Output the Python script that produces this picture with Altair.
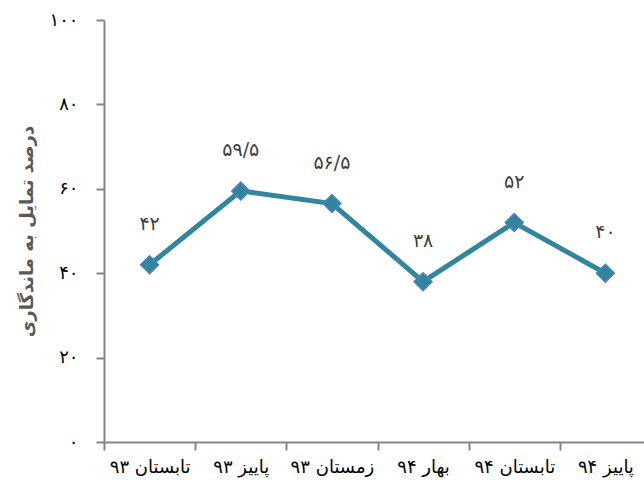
import altair as alt
import pandas as pd

# Seasons (Persian calendar) and share of employees intending to stay (%)
seasons = ["تابستان ۹۳", "پاییز ۹۳", "زمستان ۹۳", "بهار ۹۴", "تابستان ۹۴", "پاییز ۹۴"]
values = [42, 59.5, 56.5, 38, 52, 40]
y_ticks = [0, 20, 40, 60, 80, 100]

FA_DIGITS = str.maketrans("0123456789.", "۰۱۲۳۴۵۶۷۸۹/")


def fa_num(v):
    s = f"{v:g}"
    return s.translate(FA_DIGITS)


df = pd.DataFrame({
    "season": seasons,
    "value": values,
    "label": [fa_num(v) for v in values],
})

# Persian-digit labels for the y axis
y_label_expr = " : ".join(
    f"datum.value == {t} ? '{fa_num(t)}'" for t in y_ticks
) + " : ''"

FONT = "DejaVu Sans"
LINE = "#31859C"

x_enc = alt.X(
    "season:N",
    sort=seasons,
    title=None,
    scale=alt.Scale(range=[0, 547], paddingInner=0, paddingOuter=0),
    axis=alt.Axis(
        tickBand="extent",
        labelAngle=0,
        labelFontSize=18,
        labelFont=FONT,
        labelColor="#000000",
        labelPadding=8,
        tickSize=8,
        tickColor="#868686",
        tickWidth=2,
        domainColor="#868686",
        domainWidth=2,
        grid=False,
    ),
)

y_enc = alt.Y(
    "value:Q",
    title="درصد تمایل به ماندگاری",
    scale=alt.Scale(domain=[0, 100], nice=False),
    axis=alt.Axis(
        values=y_ticks,
        labelExpr=y_label_expr,
        labelFontSize=18,
        labelFont=FONT,
        labelColor="#000000",
        labelPadding=18,
        tickSize=8,
        tickColor="#868686",
        tickWidth=2,
        domainColor="#868686",
        domainWidth=2,
        grid=False,
        titleFont=FONT,
        titleFontSize=18,
        titleFontWeight="bold",
        titleColor="#595959",
        titlePadding=12,
    ),
)

base = alt.Chart(df).encode(x=x_enc, y=y_enc)

line = base.mark_line(color=LINE, strokeWidth=5)
points = base.mark_point(
    shape="diamond", filled=True, size=320, color=LINE,
    stroke="#4F7FC0", strokeWidth=1.5, opacity=1,
)
labels = base.mark_text(
    dy=-41, fontSize=19, font=FONT, color="#404040"
).encode(text="label:N")

chart = (
    alt.layer(line, points, labels)
    .properties(
        width=540,
        height=422,
        autosize=alt.AutoSizeParams(type="none"),
        padding={"left": 104, "top": 20, "right": 0, "bottom": 51},
    )
    .configure_view(stroke=None)
)

chart.save("out.html", embed_options={"renderer": "svg", "actions": False})
